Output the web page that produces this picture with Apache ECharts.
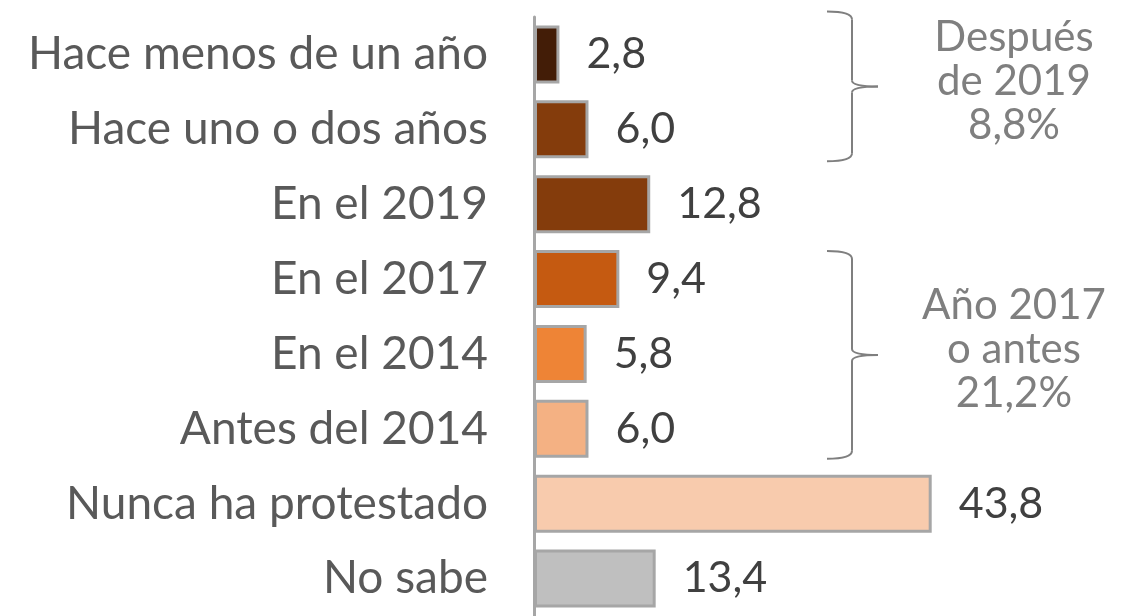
<!DOCTYPE html>
<html>
<head>
<meta charset="utf-8">
<script src="https://cdn.jsdelivr.net/npm/echarts@6/dist/echarts.min.js"></script>
<style>
  html, body { margin: 0; padding: 0; background: #fff; }
  #chart { width: 1123px; height: 616px; }
</style>
</head>
<body>
<div id="chart"></div>
<script>
// categorias de arriba hacia abajo
const categories = [
  'Hace menos de un año',
  'Hace uno o dos años',
  'En el 2019',
  'En el 2017',
  'En el 2014',
  'Antes del 2014',
  'Nunca ha protestado',
  'No sabe'
];
const values = [2.8, 6.0, 12.8, 9.4, 5.8, 6.0, 43.8, 13.4];
const barColors = ['#431d07', '#843c0c', '#843c0c', '#c55a11', '#ee8436', '#f4b183', '#f8cbad', '#bfbfbf'];

// grupos con llave a la derecha
const groups = [
  { from: 0, to: 1, lines: ['Después', 'de 2019', '8,8%'] },
  { from: 3, to: 5, lines: ['Año 2017', 'o antes', '21,2%'] }
];

const FONT = 'Lato';
const fmt = v => v.toFixed(1).replace('.', ',');

const chart = echarts.init(document.getElementById('chart'));

const option = {
  animation: false,
  grid: { left: 534, top: 17, right: 135, height: 603 },
  xAxis: {
    type: 'value',
    min: 0,
    max: 50,
    show: false
  },
  yAxis: {
    type: 'category',
    data: categories,
    inverse: true,
    axisLine: { show: true, lineStyle: { color: '#a6a6a6', width: 3 } },
    axisTick: { show: false },
    axisLabel: {
      color: '#595959',
      fontFamily: FONT,
      fontSize: 46,
      margin: 46
    }
  },
  series: [{
    type: 'bar',
    barWidth: 58,
    data: values.map((v, i) => ({
      value: v,
      itemStyle: { color: barColors[i] }
    })),
    itemStyle: { borderColor: '#a6a6a6', borderWidth: 3 },
    label: {
      show: true,
      position: 'right',
      distance: 27,
      color: '#404040',
      fontFamily: FONT,
      fontSize: 43,
      formatter: p => fmt(p.value)
    }
  }]
};

chart.setOption(option);

// llaves y textos de los grupos (extension de cada llave respecto al centro de la banda)
const braceX = 852, tipX = 878, hook = 25, textX = 1014;
const reach = [[-43, 32], [-28, 30]];
const line = { stroke: '#7f7f7f', lineWidth: 2, fill: null };
const graphics = [];
groups.forEach((g, k) => {
  const yTop = chart.convertToPixel({ yAxisIndex: 0 }, g.from) + reach[k][0];
  const yBot = chart.convertToPixel({ yAxisIndex: 0 }, g.to) + reach[k][1];
  const yMid = (yTop + yBot) / 2;
  const x0 = braceX - hook;
  graphics.push(
    { type: 'bezierCurve', shape: { x1: x0, y1: yTop, cpx1: braceX, cpy1: yTop, x2: braceX, y2: yTop + 8 }, style: line },
    { type: 'line', shape: { x1: braceX, y1: yTop + 8, x2: braceX, y2: yMid - 6 }, style: line },
    { type: 'bezierCurve', shape: { x1: braceX, y1: yMid - 6, cpx1: braceX, cpy1: yMid, x2: tipX, y2: yMid }, style: line },
    { type: 'bezierCurve', shape: { x1: tipX, y1: yMid, cpx1: braceX, cpy1: yMid, x2: braceX, y2: yMid + 6 }, style: line },
    { type: 'line', shape: { x1: braceX, y1: yMid + 6, x2: braceX, y2: yBot - 8 }, style: line },
    { type: 'bezierCurve', shape: { x1: braceX, y1: yBot - 8, cpx1: braceX, cpy1: yBot, x2: x0, y2: yBot }, style: line },
    {
      type: 'text',
      x: textX,
      y: yMid - 5,
      style: {
        text: g.lines.join('\n'),
        fill: '#7f7f7f',
        font: `42px ${FONT}`,
        lineHeight: 44,
        align: 'center',
        verticalAlign: 'middle'
      }
    }
  );
});
chart.setOption({ graphic: graphics });
</script>
</body>
</html>
